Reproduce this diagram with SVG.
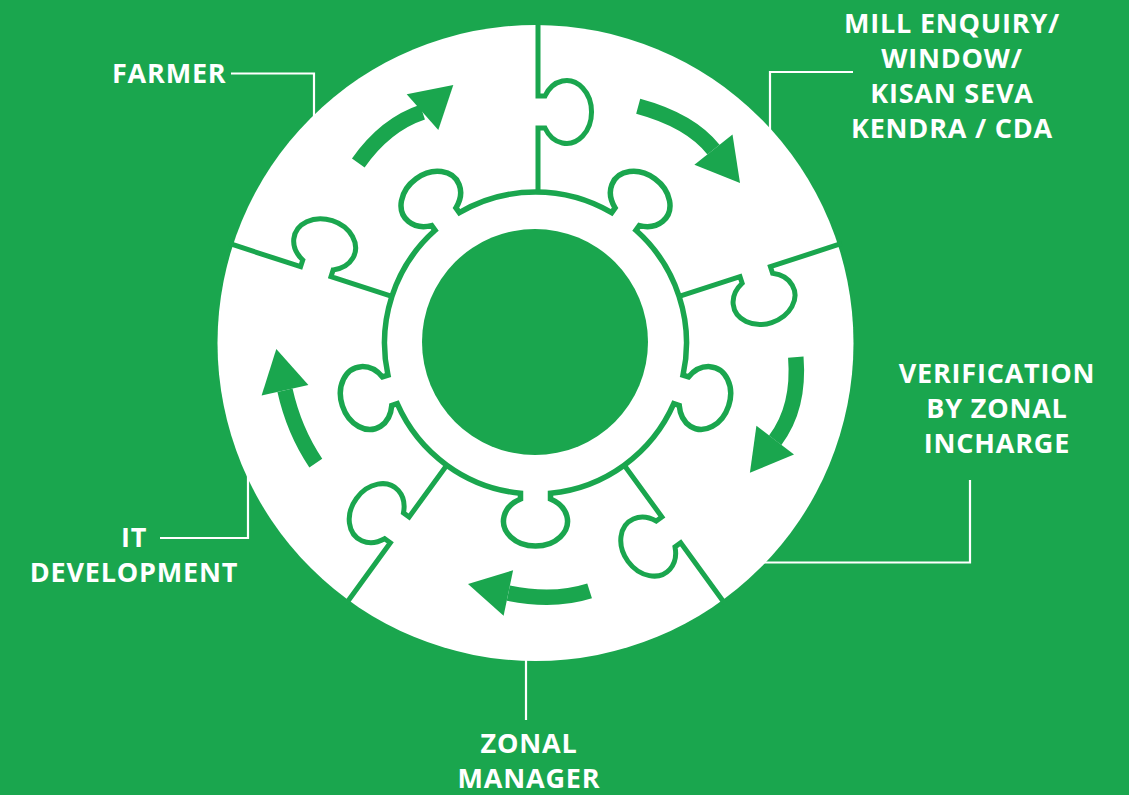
<svg xmlns="http://www.w3.org/2000/svg" width="1129" height="795" viewBox="0 0 1129 795">
  <defs>
    <style>
      .bg { fill: #1aa64e; }
      .disc { fill: #ffffff; }
      .seam { fill: none; stroke: #1aa64e; stroke-width: 5; stroke-linejoin: miter; }
      .ring { fill: none; stroke: #1aa64e; stroke-width: 5.5; stroke-linejoin: miter; }
      .hub { fill: #1aa64e; }
      .shaft { fill: none; stroke: #1aa64e; stroke-width: 15.5; stroke-linecap: butt; }
      .head { fill: #1aa64e; }
      .leader { fill: none; stroke: #ffffff; stroke-width: 2.2; }
      .label { fill: #ffffff; font-family: "Open Sans", "Liberation Sans", sans-serif; font-weight: 700; font-size: 27px; letter-spacing: 0.8px; }
      .mid { text-anchor: middle; }
    </style>
    <!-- one seam between two outer pieces, drawn pointing up from the wheel centre, tab on the clockwise side -->
    <path id="seam" d="M0,-151 L0,-215 L7,-215 A25,31.5 0 1 0 7,-247 L0,-247 L0,-322"/>
  </defs>

  <rect class="bg" x="0" y="0" width="1129" height="795"/>

  <!-- wheel: white disc, five outer pieces, toothed inner ring and solid hub -->
  <g id="wheel">
    <circle class="disc" cx="535.5" cy="343" r="318"/>
    <g id="seams" class="seam">
      <use href="#seam" transform="translate(538,343)"/>
      <use href="#seam" transform="translate(535.5,343) rotate(72)"/>
      <use href="#seam" transform="translate(535.5,343) rotate(144)"/>
      <use href="#seam" transform="translate(535.5,343) rotate(216)"/>
      <use href="#seam" transform="translate(535.5,343) rotate(288)"/>
    </g>
    <path id="inner-ring" class="ring" d="M683.03,375.16 L688.5,376.94 A32,25 108 1 1 679.24,405.48 L673.77,403.70 A151,151 0 0 1 550.5,493.25 L550.5,499 A32,25 0 1 1 520.5,499 L520.5,493.25 A151,151 0 0 1 397.24,403.70 L391.77,405.48 A32,25 72 1 1 382.50,376.94 L387.97,375.16 A151,151 0 0 1 435.05,230.26 L431.67,225.61 A32,25 144 1 1 455.94,207.97 L459.32,212.62 A151,151 0 0 1 611.69,212.62 L615.07,207.97 A32,25 36 1 1 639.34,225.61 L635.96,230.26 A151,151 0 0 1 683.03,375.16 Z"/>
    <circle class="hub" cx="535" cy="342" r="113"/>
  </g>

  <!-- clockwise flow arrows and label leader lines -->
  <g id="connectors">
    <g id="flow-arrows">
      <path class="shaft" d="M358.3,163 Q385.6,124.4 422.5,112.2"/>
      <polygon class="head" points="406.7,94.3 453.3,85 438.3,130"/>
      <path class="shaft" d="M638.2,106.2 Q690.2,120.3 713.5,149.6"/>
      <polygon class="head" points="732.5,134.4 740,183 694.4,164.8"/>
      <path class="shaft" d="M795.8,357.2 Q799.8,407.9 775.2,440.2"/>
      <polygon class="head" points="756.4,425.8 749.9,472.7 794,454.5"/>
      <path class="shaft" d="M589.6,590.85 Q553.2,602.4 508.35,593.05"/>
      <polygon class="head" points="513.1,570.3 468,584.1 503.6,615.8"/>
      <path class="shaft" d="M315.8,463.15 Q293.9,430.45 285,390.3"/>
      <polygon class="head" points="261.6,395.5 276.3,349.1 308.4,385.1"/>
    </g>
    <path class="leader" d="M231,73.5 H314 V118"/>
    <path class="leader" d="M853,72 H770 V132"/>
    <path class="leader" d="M970,480 V562.5 H750"/>
    <path class="leader" d="M526,655 V720"/>
    <path class="leader" d="M160,538 H248 V472"/>
  </g>

  <g id="farmer">
    <text class="label" x="112" y="83">FARMER</text>
  </g>
  <g id="mill-enquiry">
    <text class="label mid" x="952" y="33">MILL ENQUIRY/</text>
    <text class="label mid" x="952" y="68">WINDOW/</text>
    <text class="label mid" x="952" y="103">KISAN SEVA</text>
    <text class="label mid" x="952" y="138">KENDRA / CDA</text>
  </g>
  <g id="verification">
    <text class="label mid" x="997" y="383">VERIFICATION</text>
    <text class="label mid" x="997" y="418">BY ZONAL</text>
    <text class="label mid" x="997" y="453">INCHARGE</text>
  </g>
  <g id="zonal-manager">
    <text class="label mid" x="529" y="753">ZONAL</text>
    <text class="label mid" x="529" y="788">MANAGER</text>
  </g>
  <g id="it-development">
    <text class="label mid" x="134" y="547">IT</text>
    <text class="label mid" x="134" y="582">DEVELOPMENT</text>
  </g>
</svg>
